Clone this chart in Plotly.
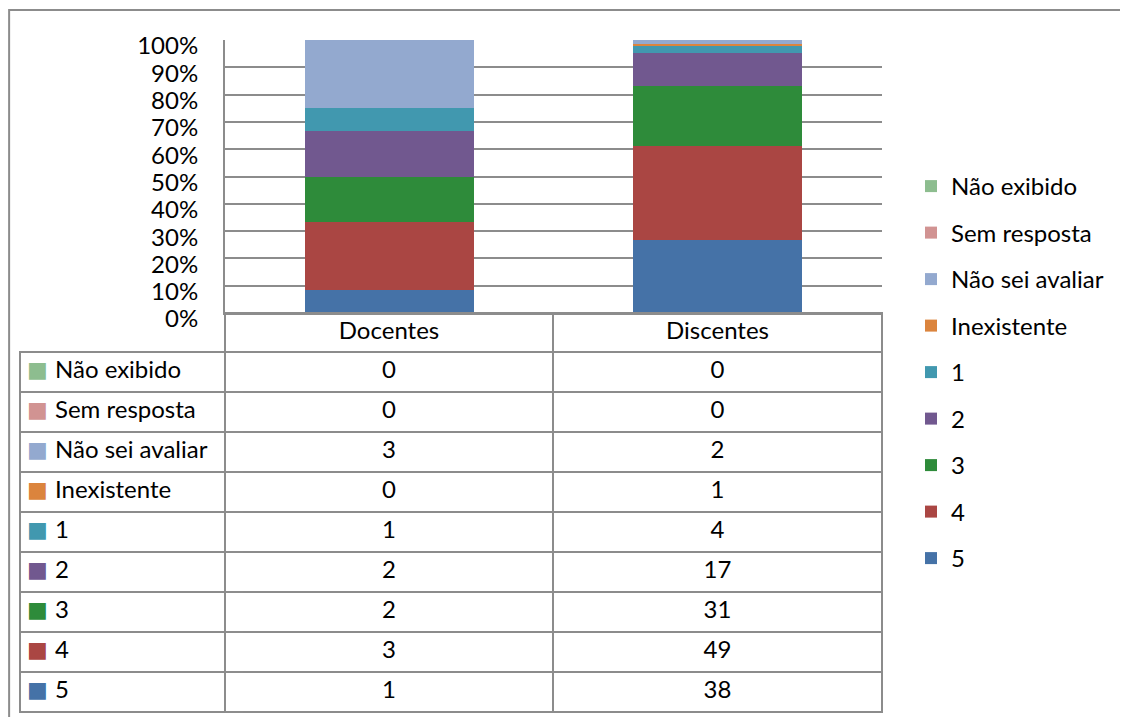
import plotly.graph_objects as go

groups = ["Docentes", "Discentes"]
series_names = ["5", "4", "3", "2", "1", "Inexistente", "Não sei avaliar", "Sem resposta", "Não exibido"]
docentes = [1, 3, 2, 2, 1, 0, 3, 0, 0]
discentes = [38, 49, 31, 17, 4, 1, 2, 0, 0]
colors = ["#4572A7", "#AA4643", "#2E8B3A", "#71588F", "#4198AF", "#DB843D", "#93A9CF", "#D19392", "#8DBD8F"]
y_ticks = list(range(0, 101, 10))

FONT = "Lato"
GRID = "#8c8c8c"
NBSP = "\u00a0"
CLEAR = "rgba(0,0,0,0)"
# the page body has an 8px margin, so the figure is 8px smaller than the window
OFF = 8
W, H = 1128 - OFF, 717 - OFF


def px_x(p):
    return (p - OFF) / W


def px_y(p):
    return 1 - (p - OFF) / H


fig = go.Figure()

for i, name in enumerate(series_names):
    fig.add_trace(
        go.Bar(
            x=groups,
            y=[docentes[i], discentes[i]],
            name=name,
            marker={"color": colors[i], "line": {"width": 0}},
            width=0.515,
            legendgroup=name,
            legendrank=len(series_names) - i,
        )
    )

# data table under the bars, rows top to bottom = reversed series order
rows = list(range(len(series_names)))[::-1]
label_col = [series_names[i].replace(" ", NBSP) for i in rows]
doc_col = [str(docentes[i]) for i in rows]
dis_col = [str(discentes[i]) for i in rows]
table_y = [0, px_y(313)]

# grid of the table with the counts
fig.add_trace(
    go.Table(
        domain={"x": [px_x(20), px_x(882)], "y": table_y},
        columnwidth=[205, 328, 329],
        header={
            "values": ["", groups[0], groups[1]],
            "height": 39,
            "align": "center",
            "fill": {"color": CLEAR},
            "line": {"color": [CLEAR, GRID, GRID], "width": 2},
            "font": {"family": FONT, "size": 24, "color": "#000"},
        },
        cells={
            "values": [[""] * len(rows), doc_col, dis_col],
            "height": 40,
            "align": "center",
            "fill": {"color": CLEAR},
            "line": {"color": GRID, "width": 2},
            "font": {"family": FONT, "size": 24, "color": "#000"},
        },
    )
)

# colour keys and series names in the first column
fig.add_trace(
    go.Table(
        domain={"x": [px_x(28), px_x(225)], "y": table_y},
        columnwidth=[19, 178],
        header={
            "values": ["", ""],
            "height": 39,
            "fill": {"color": CLEAR},
            "line": {"color": CLEAR, "width": 0},
        },
        cells={
            "values": [["■"] * len(rows), label_col],
            "height": 40,
            "align": ["center", "left"],
            "fill": {"color": CLEAR},
            "line": {"color": CLEAR, "width": 0},
            "font": {
                "family": ["DejaVu Sans", FONT],
                "size": [22, 24],
                "color": [[colors[i] for i in rows], ["#000"] * len(rows)],
            },
        },
    )
)

fig.update_layout(
    template="none",
    width=W,
    height=H,
    barmode="stack",
    barnorm="percent",
    margin={"l": 0, "r": 0, "t": 0, "b": 0, "autoexpand": False},
    paper_bgcolor="white",
    plot_bgcolor="white",
    font={"family": FONT, "size": 24, "color": "#000"},
    showlegend=True,
    legend={
        "x": px_x(911),
        "y": px_y(164),
        "xanchor": "left",
        "yanchor": "top",
        "traceorder": "grouped",
        "tracegroupgap": 12.3,
        "font": {"family": FONT, "size": 24},
        "itemwidth": 30,
        "bgcolor": CLEAR,
    },
    xaxis={
        "domain": [px_x(225), px_x(882)],
        "range": [-0.5, 1.5],
        "showticklabels": False,
        "showline": True,
        "linecolor": GRID,
        "linewidth": 2,
        "showgrid": False,
        "zeroline": False,
        "automargin": False,
        "fixedrange": True,
    },
    yaxis={
        "domain": [px_y(313), px_y(40)],
        "range": [0, 100],
        "tickvals": y_ticks,
        "ticktext": [f"{v}%" for v in y_ticks],
        "ticks": "",
        "showgrid": True,
        "gridcolor": GRID,
        "gridwidth": 1.5,
        "showline": True,
        "linecolor": GRID,
        "linewidth": 2,
        "zeroline": False,
        "automargin": False,
        "ticklabelstandoff": 20,
        "ticklabelshift": 6,
        "tickfont": {"family": FONT, "size": 24},
        "fixedrange": True,
    },
    annotations=[
        {
            "text": "<b>VAGAS</b>",
            "x": px_x(568),
            "y": px_y(5),
            "xref": "paper",
            "yref": "paper",
            "xanchor": "center",
            "yanchor": "bottom",
            "showarrow": False,
            "font": {"family": "Liberation Serif", "size": 24, "color": "#000"},
        }
    ],
    shapes=[
        {
            "type": "rect",
            "xref": "paper",
            "yref": "paper",
            "x0": 0.001,
            "x1": 1.05,
            "y0": -0.05,
            "y1": px_y(10),
            "line": {"color": GRID, "width": 2},
            "fillcolor": CLEAR,
            "layer": "below",
        }
    ],
)

fig.write_html("out.html")
